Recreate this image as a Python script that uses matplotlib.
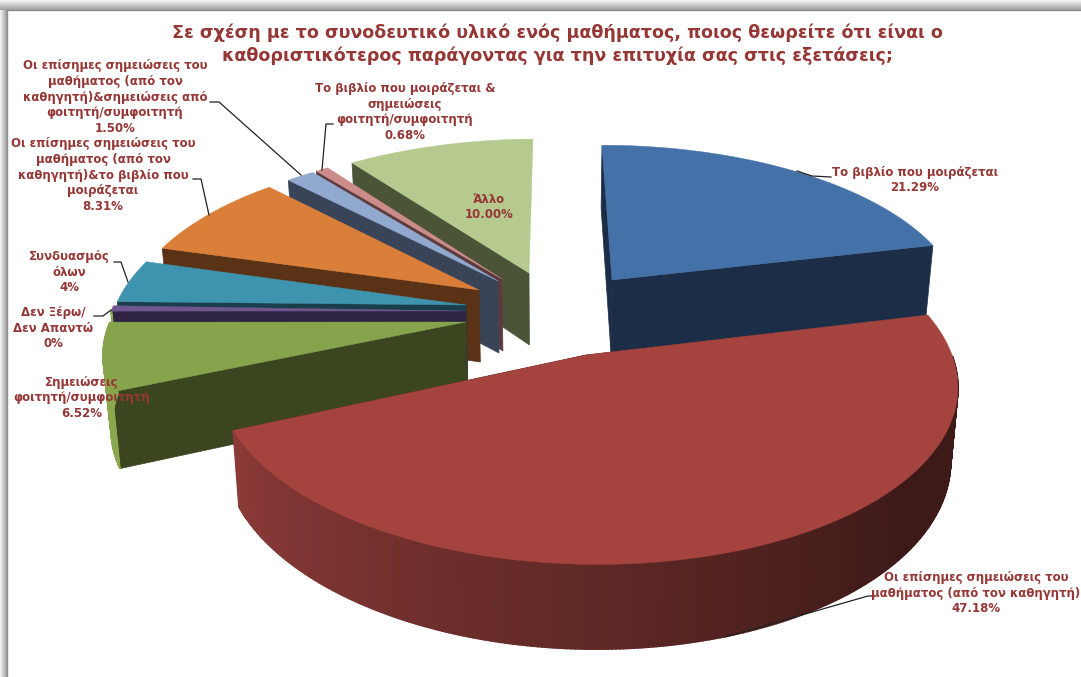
#!/usr/bin/env python
# -*- coding: utf-8 -*-
import numpy as np
import matplotlib
matplotlib.use("Agg")
import matplotlib.pyplot as plt
from matplotlib.colors import to_rgb

# data, clockwise from 12 o'clock
names = ["book", "official", "student_notes", "dont_know", "all", "off_book", "off_notes", "book_notes", "other"]
values = [21.29, 47.18, 6.52, 0.52, 4.0, 8.31, 1.50, 0.68, 10.00]

title = ("Σε σχέση με το συνοδευτικό υλικό ενός μαθήματος, ποιος θεωρείτε ότι είναι ο\n"
         "καθοριστικότερος παράγοντας για την επιτυχία σας στις εξετάσεις;")
labels = [
    "Το βιβλίο που μοιράζεται\n21.29%",
    "Οι επίσημες σημειώσεις του\nμαθήματος (από τον καθηγητή)\n47.18%",
    "Σημειώσεις\nφοιτητή/συμφοιτητή\n6.52%",
    "Δεν Ξέρω/\nΔεν Απαντώ\n0%",
    "Συνδυασμός\nόλων\n4%",
    "Οι επίσημες σημειώσεις του\nμαθήματος (από τον\nκαθηγητή)&το βιβλίο που\nμοιράζεται\n8.31%",
    "Οι επίσημες σημειώσεις του\nμαθήματος (από τον\nκαθηγητή)&σημειώσεις από\nφοιτητή/συμφοιτητή\n1.50%",
    "Το βιβλίο που μοιράζεται &\nσημειώσεις\nφοιτητή/συμφοιτητή\n0.68%",
    "Άλλο\n10.00%",
]

# slice layout in pixels: tip position, radii and skew of each exploded slice
tips = [(612, 280), (586, 355), (466, 322), (466, 311), (466, 305), (479, 290), (498, 281), (502, 279), (529, 273)]
radii = [(344, 155), (366, 178), (356, 165), (355, 165), (351, 168), (347, 159), (348, 155), (349, 154), (344, 154)]
skews = [(-11.5, 0), (-10, 0), (16, 0), (16, 0), (14, 2), (11, 1), (12, 0), (12, 0), (4.6, 2)]
top_colors = ["#4472a8", "#a5433f", "#87a34c", "#6f568f", "#3e94ae", "#d97f3a", "#92a9cf", "#cc8c8a", "#b6ca8f"]
wall_colors = ["#1c2e47", "#5a2624", "#3b4520", "#2e2340", "#1a3f4a", "#5a3216", "#3a4459", "#5c3b3d", "#4c5437"]
draw_order = [8, 7, 6, 5, 4, 3, 2, 0, 1]

label_pos = [(915, 180), (976, 593), (82, 398), (53, 328), (69, 272), (103, 175), (115, 97), (405, 112), (489, 207)]
leaders = [
    [(797, 171), (812, 176), (831, 177)],
    [(725, 637), (868, 596), (874, 596)],
    [(114, 262), (121, 262), (128, 282)],
    [(94, 316), (103, 316), (111, 310)],
    [(193, 179), (201, 179), (209, 215)],
    [(210, 102), (219, 102), (301, 175)],
    [(333, 124), (326, 124), (322, 170)],
]

PERSP = 0.15     # far side of the disk shrinks by this much
DEPTH = 72       # pie thickness
VANISH_X = 553   # walls lean towards this x
TEXT_COLOR = "#953735"

plt.rcParams["font.family"] = ["DejaVu Sans"]


def project(tip, radius, skew, ang):
    u, v = np.sin(ang), np.cos(ang)
    w = 1 + PERSP * v
    x = tip[0] + (radius[0] * u + skew[0] * v) / w
    y = tip[1] - (radius[1] * v + skew[1] * u) / w
    return x, y, w


def lower(x, y, w):
    # same point on the bottom face of the pie
    return VANISH_X + (x - VANISH_X) * 0.982, y + DEPTH / w


def mix(c1, c2, t):
    c1, c2 = np.array(to_rgb(c1)), np.array(to_rgb(c2))
    return tuple(c1 + (c2 - c1) * t)


def draw_slice(ax, i, a0, a1):
    tip, radius, skew = tips[i], radii[i], skews[i]
    ang = np.radians(np.linspace(a0, a1, max(int(a1 - a0) * 2, 6)))
    x, y, w = project(tip, radius, skew, ang)
    bx, by = lower(x, y, w)
    tbx, tby = lower(tip[0], tip[1], 1.0)

    # cut faces; on the left half only the start face looks at the viewer
    faces = (0,) if a0 > 180 else (0, -1)
    for k in faces:
        ax.fill([tip[0], x[k], bx[k], tbx], [tip[1], y[k], by[k], tby],
                color=wall_colors[i], lw=0.5, zorder=2)

    # rim, only the part turned towards the viewer
    for k in range(len(ang) - 1):
        if np.cos(ang[k]) > 0:
            continue
        if names[i] == "official":
            t = (a1 - np.degrees(ang[k])) / (a1 - 90)
            col = mix("#8c3b38", "#3d1a18", min(t * 1.35, 1))
        else:
            col = "#8aa64e"
        ax.fill([x[k], x[k + 1], bx[k + 1], bx[k]], [y[k], y[k + 1], by[k + 1], by[k]],
                color=col, lw=1.2, zorder=2)

    ax.fill(np.r_[tip[0], x], np.r_[tip[1], y], color=top_colors[i], lw=0.3, zorder=2)


fig = plt.figure(figsize=(10.81, 6.77), dpi=100)
ax = fig.add_axes([0, 0, 1, 1])

# screenshot frame
grad = np.linspace(0.96, 0.62, 32).reshape(-1, 1)
ax.imshow(grad, extent=(0, 1081, 10, 0), cmap="gray", vmin=0, vmax=1, aspect="auto", zorder=1)
ax.imshow(grad.T, extent=(0, 7, 677, 10), cmap="gray", vmin=0, vmax=1, aspect="auto", zorder=1)
ax.plot([7, 7, 1081], [677, 10, 10], color="#8c8c8c", lw=1, zorder=1)

edges = np.r_[0, np.cumsum(values)] / np.sum(values) * 360
for i in draw_order:
    draw_slice(ax, i, edges[i], edges[i + 1])

for pts in leaders:
    ax.plot(*zip(*pts), color="#222222", lw=0.9, zorder=3)

for txt, (lx, ly) in zip(labels, label_pos):
    ax.text(lx, ly, txt, ha="center", va="center", multialignment="center", color=TEXT_COLOR,
            fontsize=8.5, fontweight="bold", linespacing=1.25, zorder=4)

ax.text(557, 44, title, ha="center", va="center", multialignment="center", color=TEXT_COLOR,
        fontsize=12.6, fontweight="bold", linespacing=1.3, zorder=4)

ax.set_xlim(0, 1081)
ax.set_ylim(677, 0)
ax.axis("off")
fig.savefig("out.png", dpi=100, facecolor="white")
plt.close(fig)
